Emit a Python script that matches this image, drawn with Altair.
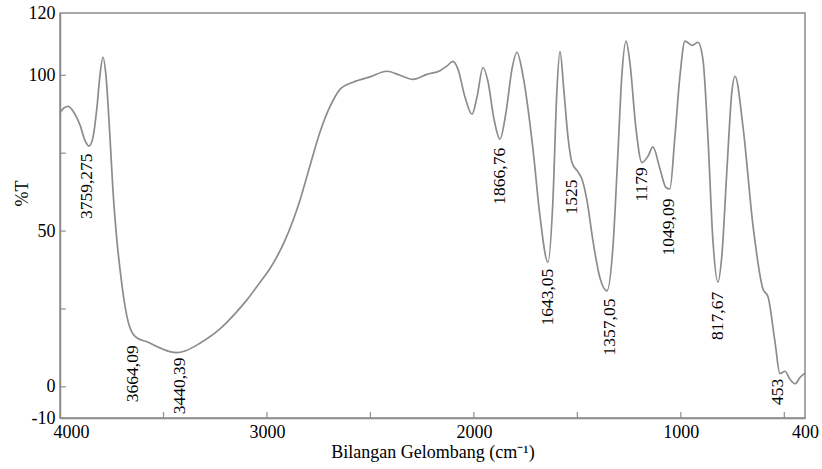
import altair as alt
import pandas as pd

# Spectrum trace (wavenumber cm-1, %T)
wavenumber = [4000, 3981, 3961, 3932, 3903, 3879, 3860, 3841, 3821, 3807, 3792, 3778,
              3758, 3744, 3725, 3705, 3686, 3667, 3652, 3623, 3580, 3517, 3469, 3435,
              3396, 3324, 3227, 3154, 3096, 3034, 2985, 2913, 2840, 2792, 2744, 2695,
              2647, 2584, 2502, 2420, 2357, 2294, 2227, 2164, 2130, 2101, 2077, 2043,
              2009, 1985, 1956, 1932, 1903, 1874, 1845, 1816, 1792, 1763, 1714, 1681,
              1642, 1618, 1599, 1584, 1565, 1545, 1526, 1497, 1478, 1454, 1425, 1391,
              1357, 1328, 1304, 1285, 1265, 1246, 1217, 1188, 1159, 1135, 1101, 1072,
              1053, 1029, 1004, 980, 946, 917, 893, 869, 845, 821, 802, 777, 753, 738,
              700, 651, 603, 579, 545, 521, 497, 473, 448, 424, 400]
transmittance = [88, 89.5, 90, 88, 84, 79, 77.3, 80, 90, 100, 105.8, 100,
                 79.5, 63, 47, 35, 26, 20, 17.5, 15.5, 14.5, 12.5, 11.3, 11,
                 11.5, 14, 18.6, 23.5, 28, 33.5, 38, 47, 60, 71, 81.7, 90,
                 95.5, 97.8, 99.5, 101.3, 100, 98.7, 100.3, 101.5, 103, 104.5, 102, 93,
                 87.5, 93, 102.5, 98, 86, 79.5, 88, 102, 107.4, 100, 76, 55,
                 40, 60, 95, 107.7, 95, 80, 72, 69, 66.7, 60, 47, 35,
                 30.8, 45, 75, 100, 111, 104, 83, 72, 74, 77, 70, 64,
                 63.5, 80, 100, 111, 109.6, 110.6, 105, 80, 47, 33.6, 42, 70, 95, 99.7,
                 83.7, 51.6, 31.4, 29, 14.4, 4.2, 5, 2.5, 1, 3, 4.5]

# Peak annotations
peak_labels = ["3759,275", "3664,09", "3440,39", "1866,76", "1643,05", "1525",
               "1357,05", "1179", "1049,09", "817,67", "453"]
peak_x = [3870, 3647, 3420, 1874, 1642, 1526, 1343, 1188, 1057, 821, 531]
peak_y = [64.4, 4.2, 0.3, 67.6, 28.8, 60.9, 19.2, 65, 51.3, 22.8, -1.6]

x_tick_values = [4000, 3000, 2000, 1000, 400]
y_tick_values = [120, 100, 50, 0, -10]
x_inner_ticks = [3500, 3000, 2500, 2000, 1500, 1000, 500]
y_inner_ticks = [100, 75, 50, 25, 0]

FONT = "Liberation Serif"
GRAY = "#8c8c8c"

spec = pd.DataFrame({"wn": wavenumber, "T": transmittance})
peaks = pd.DataFrame({"wn": peak_x, "T": peak_y, "label": peak_labels})
xt = pd.DataFrame({"wn": x_inner_ticks, "y1": [-10] * len(x_inner_ticks),
                   "y2": [-8.1] * len(x_inner_ticks)})
yt = pd.DataFrame({"T": y_inner_ticks, "x1": [4000] * len(y_inner_ticks),
                   "x2": [3972] * len(y_inner_ticks)})

xscale = alt.Scale(domain=[400, 4000], reverse=True, nice=False, zero=False)
yscale = alt.Scale(domain=[-10, 120], nice=False, zero=False)

line = alt.Chart(spec).mark_line(color=GRAY, strokeWidth=1.7, interpolate="monotone").encode(
    x=alt.X("wn:Q", scale=xscale,
            axis=alt.Axis(values=x_tick_values, title="Bilangan Gelombang (cm\u207b\u00b9)",
                          labelExpr="'' + datum.value",
                          labelFlush=False, labelOverlap=False, labelPadding=5,
                          titlePadding=2,
                          labelOffset=alt.expr("datum.value == 4000 ? 11 : 0"))),
    y=alt.Y("T:Q", scale=yscale,
            axis=alt.Axis(values=y_tick_values, title="%T", labelOverlap=False,
                          labelExpr="'' + datum.value",
                          labelFlush=False, labelPadding=5,
                          titleAngle=270, titleX=-38, titleY=180,
                          titleAlign="center", titleBaseline="middle")),
)

text = alt.Chart(peaks).mark_text(angle=270, font=FONT, fontSize=17.5, color="black",
                                  align="center", baseline="middle").encode(
    x=alt.X("wn:Q", scale=xscale),
    y=alt.Y("T:Q", scale=yscale),
    text="label:N",
)

xticks = alt.Chart(xt).mark_rule(color=GRAY, strokeWidth=1.2).encode(
    x=alt.X("wn:Q", scale=xscale),
    y=alt.Y("y1:Q", scale=yscale),
    y2="y2:Q",
)
yticks = alt.Chart(yt).mark_rule(color=GRAY, strokeWidth=1.2).encode(
    y=alt.Y("T:Q", scale=yscale),
    x=alt.X("x1:Q", scale=xscale),
    x2="x2:Q",
)

chart = alt.layer(line, xticks, yticks, text).properties(
    width=745, height=405,
    autosize=alt.AutoSizeParams(type="none"),
    padding={"left": 60, "top": 13, "right": 17, "bottom": 51},
    background="white",
).configure_view(
    stroke=GRAY, strokeWidth=1.5
).configure_axis(
    domainColor=GRAY, domainWidth=1.5, ticks=False, grid=False,
    labelFont=FONT, labelFontSize=18, labelColor="black",
    titleFont=FONT, titleFontSize=18, titleFontWeight="normal", titleColor="black",
)

chart.save("out.html", embed_options={"renderer": "svg", "actions": False})
